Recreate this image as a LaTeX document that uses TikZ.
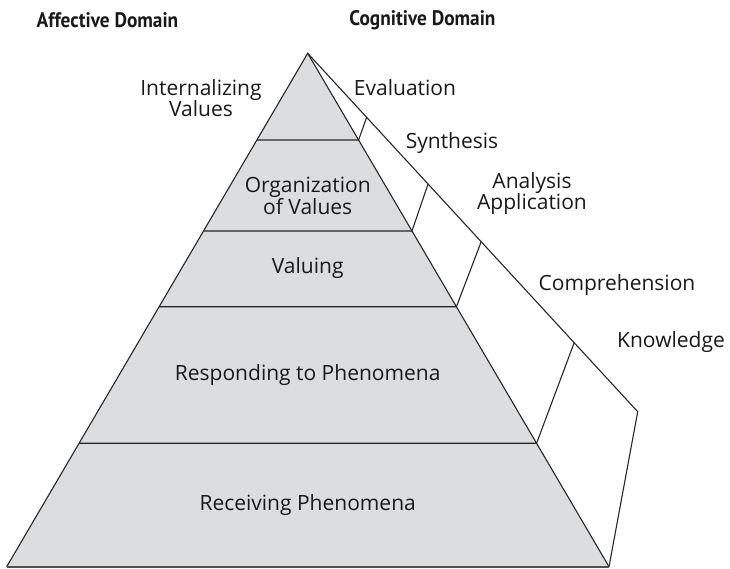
\documentclass[tikz,border=0pt]{standalone}
\usepackage{fontspec}
\setmainfont{Open Sans}
\newfontfamily\headfont[FakeStretch=0.92]{PT Sans}
\usetikzlibrary{calc}
\definecolor{tiergray}{RGB}{220,221,223}
\definecolor{basegray}{RGB}{80,80,80}

\begin{document}
\begin{tikzpicture}[x=1pt, y=-1pt,
    outline/.style={draw=black!85, line width=1.1pt},
    level/.style={font=\fontsize{21}{21}\selectfont, align=center, inner sep=0pt, text=black!90},
    heading/.style={font=\headfont\fontsize{21}{21}\selectfont\bfseries, inner sep=0pt, text=black!90}
    ]
    \useasboundingbox (0,0) rectangle (730,568);
    % Corners
    \coordinate (apex) at (307.7,53.3);
    \coordinate (BL) at (6.7,566.7);
    \coordinate (BR) at (609,566.7);
    \coordinate (KC) at (637.7,411.7);
    % Breaks between the levels
    \foreach \t [count=\i] in {0.1689,0.3461,0.4936,0.7596}{
        \coordinate (L\i) at ($(apex)!\t!(BL)$);
        \coordinate (R\i) at ($(apex)!\t!(BR)$);
    }
    \foreach \t [count=\i] in {0.1786,0.3647,0.5257,0.8075}
        \coordinate (C\i) at ($(apex)!\t!(KC)$);
    % Faces
    \fill[tiergray] (apex) -- (BL) -- (BR) -- cycle;
    \draw[outline] (BL) -- (apex) -- (BR);
    \draw[outline] (apex) -- (KC) -- (BR);
    \draw[basegray, line width=2pt] (BL) -- (BR);
    \foreach \i in {1,...,4}
        \draw[outline] (L\i) -- (R\i) -- (C\i);
    % Headings
    \node[heading] (affective) at (107.5,20) {Affective Domain};
    \node[heading] (cognitive) at (422.5,20) {Cognitive Domain};
    % Affective levels
    \node[level] (internal) at (201,98) {Internalizing\\Values};
    \node[level] (organize) at (307.7,196) {Organization\\of Values};
    \node[level] (valuing) at (307.7,268) {Valuing};
    \node[level] (respond) at (307.7,375) {Responding to Phenomena};
    \node[level] (receive) at (307.7,505) {Receiving Phenomena};
    % Cognitive levels
    \node[level] (evaluation) at (405,88) {Evaluation};
    \node[level] (synthesis) at (452,143) {Synthesis};
    \node[level] (analysis) at (532,194) {Analysis\\Application};
    \node[level] (comprehend) at (617,285) {Comprehension};
    \node[level] (knowledge) at (671,342) {Knowledge};
\end{tikzpicture}
\end{document}
